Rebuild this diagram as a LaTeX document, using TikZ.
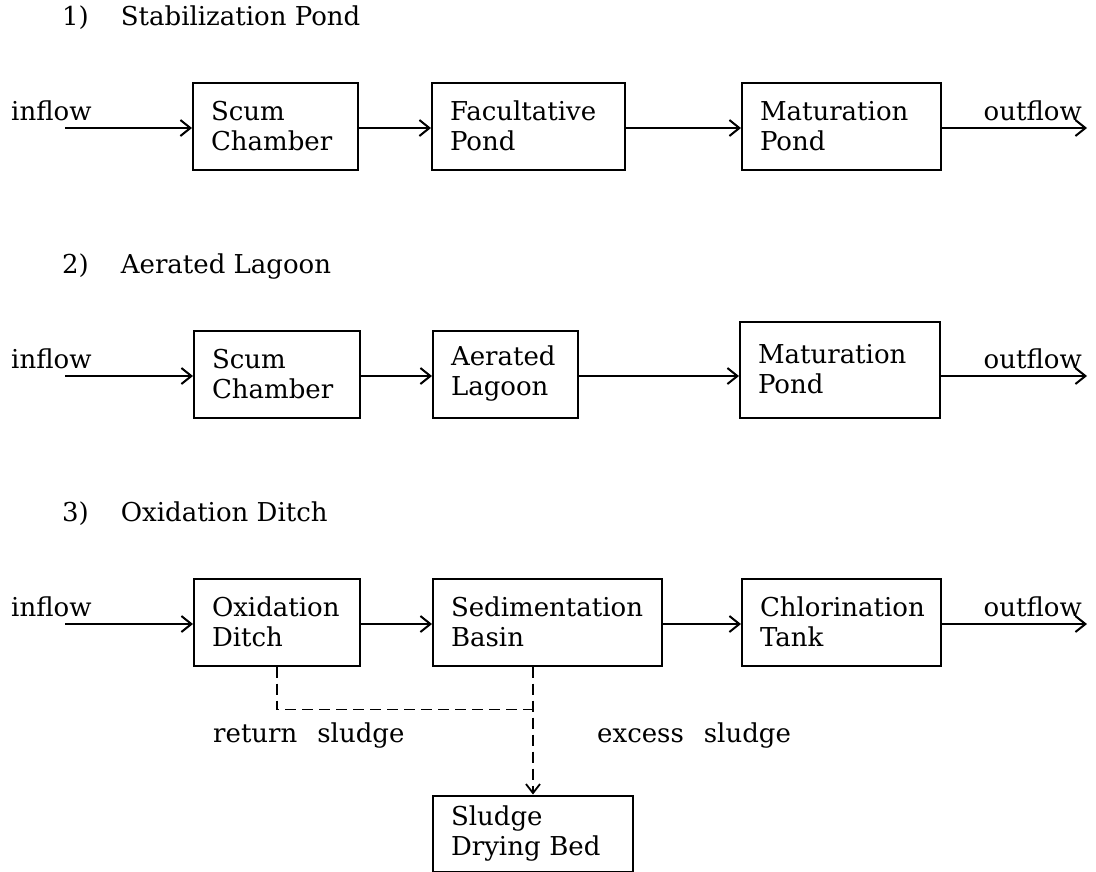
\documentclass[tikz,border=0pt]{standalone}
\usepackage{fontspec}
\setmainfont{DejaVu Serif}
\usepackage{tikz}
\usetikzlibrary{arrows.meta,positioning}
\newcommand{\flowfont}{\fontsize{26}{30}\selectfont}

\begin{document}
\begin{tikzpicture}[x=1pt,y=-1pt,
 box/.style={draw,line width=2pt,align=left,font=\flowfont,text width=#1,inner xsep=18pt,minimum height=87pt},
 lbl/.style={font=\flowfont,inner sep=0pt},
 arr/.style={-{Straight Barb[length=10pt,width=16pt,line width=2pt]},line width=2.8pt},
 ret/.style={line width=1.8pt,dash pattern=on 11pt off 6pt}
]
\useasboundingbox (0,0) rectangle (1096,871);

% 1) stabilization pond
\node[lbl,anchor=base west] (t1) at (62,25) {1)\hspace{32pt}Stabilization Pond};
\node[box=129pt,anchor=west] (scum1) at (192,126) {Scum\\Chamber};
\node[box=157pt,right=72pt of scum1] (fac1) {Facultative\\Pond};
\node[box=163pt,right=115pt of fac1] (mat1) {Maturation\\Pond};
\node[lbl,anchor=base west] (in1) at (11,120) {inflow};
\node[lbl,anchor=base east] (out1) at (1082,120) {outflow};
\coordinate (src1) at (65,128);
\coordinate (end1) at (1087,128);
\draw[arr] (src1) -- (src1 -| scum1.west); \draw[arr] (scum1.east |- src1) -- (src1 -| fac1.west);
\draw[arr] (fac1.east |- src1) -- (src1 -| mat1.west); \draw[arr] (mat1.east |- src1) -- (end1);

% 2) aerated lagoon
\node[lbl,anchor=base west] (t2) at (62,273) {2)\hspace{32pt}Aerated Lagoon};
\node[box=130pt,anchor=west] (scum2) at (193,374) {Scum\\Chamber};
\node[box=109pt,right=71pt of scum2] (aer2) {Aerated\\Lagoon};
\node[box=164pt,minimum height=96pt,yshift=4.5pt,right=160pt of aer2] (mat2) {Maturation\\Pond};
\node[lbl,anchor=base west] (in2) at (11,368) {inflow};
\node[lbl,anchor=base east] (out2) at (1082,368) {outflow};
\coordinate (src2) at (65,376);
\coordinate (end2) at (1087,376);
\draw[arr] (src2) -- (src2 -| scum2.west); \draw[arr] (scum2.east |- src2) -- (src2 -| aer2.west);
\draw[arr] (aer2.east |- src2) -- (src2 -| mat2.west); \draw[arr] (mat2.east |- src2) -- (end2);

% 3) oxidation ditch
\node[lbl,anchor=base west] (t3) at (62,521) {3)\hspace{32pt}Oxidation Ditch};
\node[box=130pt,anchor=west] (ox3) at (193,622) {Oxidation\\Ditch};
\node[box=193pt,right=71pt of ox3] (sed3) {Sedimentation\\Basin};
\node[box=163pt,right=78pt of sed3] (chl3) {Chlorination\\Tank};
\node[box=164pt,minimum height=76pt,anchor=north west] (bed3) at ([yshift=-128pt]sed3.south west) {Sludge\\Drying Bed};
\node[lbl,anchor=base west] (in3) at (11,616) {inflow};
\node[lbl,anchor=base east] (out3) at (1082,616) {outflow};
\coordinate (src3) at (65,624);
\coordinate (end3) at (1087,624);
\draw[arr] (src3) -- (src3 -| ox3.west); \draw[arr] (ox3.east |- src3) -- (src3 -| sed3.west);
\draw[arr] (sed3.east |- src3) -- (src3 -| chl3.west); \draw[arr] (chl3.east |- src3) -- (end3);
\path (ox3.south) ++(0,43) coordinate (turn3);
\coordinate (split3) at (bed3.north |- turn3);
\draw[ret] (ox3.south) -- (turn3) -- (split3);
\draw[ret,-{Straight Barb[length=9pt,width=14pt,line width=1.8pt]}] (bed3.north |- sed3.south) -- (bed3.north);
\node[lbl,anchor=base west] (rs3) at (213,742) {return\hspace{20pt}sludge};
\node[lbl,anchor=base west] (xs3) at (597,742) {excess\hspace{20pt}sludge};
\end{tikzpicture}
\end{document}
